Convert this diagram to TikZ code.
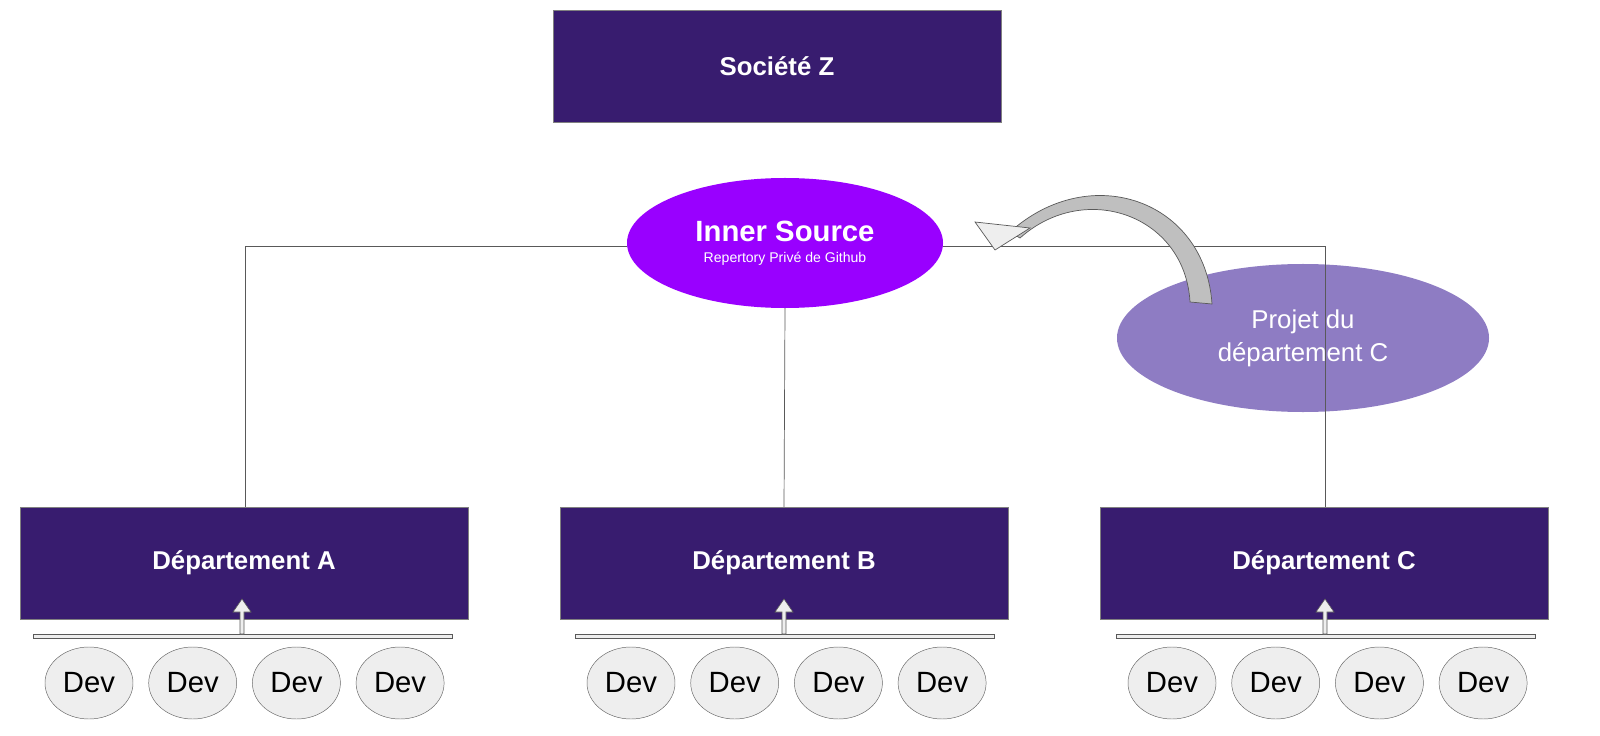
\documentclass[tikz,border=0pt]{standalone}
\usepackage{fontspec}
\setmainfont{Liberation Sans}
\usetikzlibrary{shapes.geometric}
\definecolor{deptcol}{HTML}{381C6F}
\definecolor{innercol}{HTML}{9900FF}
\definecolor{projcol}{HTML}{8E7CC3}
\definecolor{devcol}{HTML}{EEEEEE}
\begin{document}
\begin{tikzpicture}[x=0.03cm,y=-0.03cm]
	\tikzset{
	  DeptStyle/.style = {draw=gray, fill=deptcol, text=white, minimum width=13.44cm,
	                      minimum height=3.36cm, font=\fontsize{22}{26}\selectfont\bfseries},
	  DevStyle/.style = {ellipse, draw=gray!80!black, fill=devcol, minimum width=2.64cm,
	                     minimum height=2.16cm, inner sep=0pt, font=\fontsize{25}{28}\selectfont},
	  LinkStyle/.style = {draw=gray!70!black, line width=0.6pt},
	  BarStyle/.style = {draw=gray!70!black, fill=devcol, line width=0.5pt}}
	\useasboundingbox (0,0) rectangle (1600,736);
	\node[DeptStyle] (soc) at (777,66) {Société Z};
	\node[DeptStyle] (depA) at (244,563) {Département A};
	\node[DeptStyle] (depB) at (784,563) {Département B};
	\node[DeptStyle] (depC) at (1324,563) {Département C};
	\node[ellipse, fill=innercol, text=white, minimum width=9.48cm, minimum height=3.9cm,
	      align=center] (inner) at (785,243)
	      {{\fontsize{25}{28}\selectfont\bfseries Inner Source}\\[6pt]
	       {\fontsize{12}{14}\selectfont Repertory Privé de Github}};
	\node[ellipse, fill=projcol, text=white, minimum width=11.16cm, minimum height=4.44cm,
	      align=center, font=\fontsize{22}{28}\selectfont] (proj) at (1303,338)
	      {Projet du\\département C};
	% connectors
	\coordinate (cA) at (245,246);
	\coordinate (cC) at (1325,246);
	\draw[LinkStyle] (inner.west |- cA) -- (cA) -- (cA |- depA.north);
	\draw[LinkStyle] (inner.south) -- (depB.north);
	\draw[LinkStyle] (inner.east |- cC) -- (cC) -- (cC |- depC.north);
	% curved arrow
	\filldraw[fill=gray!50, draw=gray!70!black, line width=0.6pt]
	  (1212,304) .. controls (1205,200) and (1090,160) .. (1010,232)
	  -- (1020,238) .. controls (1085,180) and (1185,215) .. (1190,302) -- cycle;
	\filldraw[fill=devcol, draw=gray!70!black, line width=0.6pt]
	  (975,222) -- (1030,228) -- (995,250) -- cycle;
	% devs
	\foreach \d/\x in {A/33, B/575, C/1116}{
	  \draw[BarStyle] (\x,634) rectangle ++(419,4);
	  \filldraw[fill=devcol, draw=gray!70!black, line width=0.5pt]
	    (\x+207,634) -- ++(0,-22) -- ++(-7,0) -- ++(9,-13) -- ++(9,13) -- ++(-7,0) -- ++(0,22) -- cycle;
	  \foreach \i in {0,...,3}
	    \node[DevStyle] (dev\d\i) at (\x+56+\i*103.7,683) {Dev};
	}
\end{tikzpicture}
\end{document}
